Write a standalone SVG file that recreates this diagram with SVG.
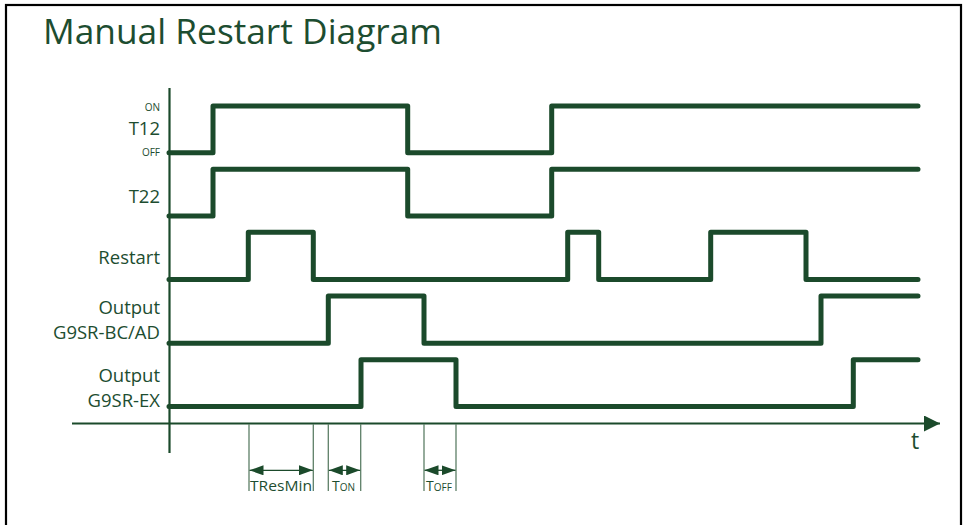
<svg xmlns="http://www.w3.org/2000/svg" width="966" height="525" viewBox="0 0 966 525">
<defs>
<style>
.sig{fill:none;stroke:#1b4a2b;stroke-width:5;stroke-linejoin:round;stroke-linecap:round}
.ax{fill:none;stroke:#1b4a2b;stroke-width:2.2}
.dim{fill:none;stroke:#5d7f67;stroke-width:1.3}
.dl{fill:none;stroke:#1b4a2b;stroke-width:1.3}
.lbl{font-family:"Open Sans","Liberation Sans",sans-serif;font-size:18.5px;fill:#1d4d30;text-anchor:end}
.sm{font-family:"Open Sans","Liberation Sans",sans-serif;font-size:10px;fill:#1d4d30;text-anchor:end}
.dt{font-family:"Open Sans","Liberation Sans",sans-serif;font-size:14px;fill:#1d4d30}
</style>
<marker id="ah" viewBox="0 0 14 10" refX="14" refY="5" markerWidth="14" markerHeight="10" markerUnits="userSpaceOnUse" orient="auto-start-reverse">
<path d="M0,0 L14,5 L0,10 Z" fill="#1b4a2b"/>
</marker>
<marker id="ta" viewBox="0 0 16 16" refX="16" refY="8" markerWidth="16" markerHeight="16" markerUnits="userSpaceOnUse" orient="auto">
<path d="M0,0 L16,8 L0,16 Z" fill="#1b4a2b"/>
</marker>
</defs>
<rect x="0" y="0" width="966" height="525" fill="#ffffff"/>
<rect x="6" y="5" width="955" height="525" fill="none" stroke="#000000" stroke-width="2.2"/>
<text x="43" y="43.5" font-family="'Open Sans','Liberation Sans',sans-serif" font-size="35" fill="#1d4d30" textLength="399" lengthAdjust="spacingAndGlyphs">Manual Restart Diagram</text>

<g id="axes">
<line class="ax" x1="169.5" y1="88" x2="169.5" y2="453"/>
<line class="ax" x1="72" y1="423.5" x2="940" y2="423.5" marker-end="url(#ta)"/>
<text x="911" y="449" font-family="'Open Sans','Liberation Sans',sans-serif" font-size="23" fill="#1d4d30">t</text>
</g>

<g id="T12">
<text class="sm" x="160" y="111">ON</text>
<text class="lbl" x="160" y="135">T12</text>
<text class="sm" x="160" y="156">OFF</text>
<path class="sig" d="M169,152.7 H213 V106 H407.7 V152.7 H551.7 V106 H918"/>
</g>
<g id="T22">
<text class="lbl" x="160" y="203">T22</text>
<path class="sig" d="M169,216 H213 V169.3 H407.7 V216 H551.7 V169.3 H918"/>
</g>
<g id="Restart">
<text class="lbl" x="160" y="263.5">Restart</text>
<path class="sig" d="M169,279.5 H248.3 V232.3 H313.3 V279.5 H567.7 V232.3 H598.7 V279.5 H710.7 V232.3 H806 V279.5 H918"/>
</g>
<g id="OutputBC">
<text class="lbl" x="160" y="313.5">Output</text>
<text class="lbl" x="160" y="338.5">G9SR-BC/AD</text>
<path class="sig" d="M169,343.3 H328.3 V296 H424 V343.3 H821 V296 H918"/>
</g>
<g id="OutputEX">
<text class="lbl" x="160" y="382">Output</text>
<text class="lbl" x="160" y="406.7">G9SR-EX</text>
<path class="sig" d="M169,406.5 H361 V359.7 H456 V406.5 H853.3 V359.7 H918"/>
</g>

<g id="connectors">
<line class="dim" x1="249" y1="424" x2="249" y2="491"/>
<line class="dim" x1="313.3" y1="424" x2="313.3" y2="491"/>
<line class="dim" x1="328.3" y1="424" x2="328.3" y2="491"/>
<line class="dim" x1="360.7" y1="424" x2="360.7" y2="491"/>
<line class="dim" x1="424" y1="424" x2="424" y2="491"/>
<line class="dim" x1="456" y1="424" x2="456" y2="491"/>
<line class="dl" x1="249.5" y1="470.3" x2="312.8" y2="470.3" marker-start="url(#ah)" marker-end="url(#ah)"/>
<line class="dl" x1="328.8" y1="470.3" x2="360.2" y2="470.3" marker-start="url(#ah)" marker-end="url(#ah)"/>
<line class="dl" x1="424.5" y1="470.3" x2="455.5" y2="470.3" marker-start="url(#ah)" marker-end="url(#ah)"/>
</g>
<g id="dimlabels">
<text class="dt" x="250" y="491" textLength="62" lengthAdjust="spacingAndGlyphs">TResMin</text>
<text class="dt" x="332" y="491">T<tspan font-size="10">ON</tspan></text>
<text class="dt" x="426" y="491">T<tspan font-size="10">OFF</tspan></text>
</g>
</svg>
